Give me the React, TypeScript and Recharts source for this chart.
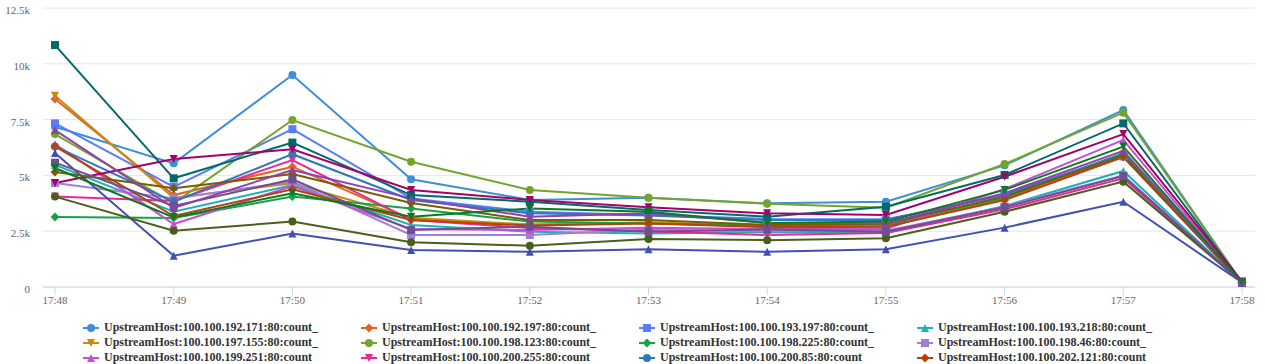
import React from 'react';
import { LineChart, Line, XAxis, YAxis, CartesianGrid, Legend } from 'recharts';

const TIMES = ['17:48', '17:49', '17:50', '17:51', '17:52', '17:53', '17:54', '17:55', '17:56', '17:57', '17:58'];
const Y_TICKS = [0, 2500, 5000, 7500, 10000, 12500];

const SERIES_NAMES = [
  'UpstreamHost:100.100.192.171:80:count_',
  'UpstreamHost:100.100.192.197:80:count_',
  'UpstreamHost:100.100.193.197:80:count_',
  'UpstreamHost:100.100.193.218:80:count_',
  'UpstreamHost:100.100.197.155:80:count_',
  'UpstreamHost:100.100.198.123:80:count_',
  'UpstreamHost:100.100.198.225:80:count_',
  'UpstreamHost:100.100.198.46:80:count_',
  'UpstreamHost:100.100.199.251:80:count',
  'UpstreamHost:100.100.200.255:80:count',
  'UpstreamHost:100.100.200.85:80:count',
  'UpstreamHost:100.100.202.121:80:count',
  'UpstreamHost:100.100.202.57:80:count',
  'UpstreamHost:100.100.203.14:80:count',
  'UpstreamHost:100.100.203.160:80:count',
  'UpstreamHost:100.100.204.22:80:count',
  'UpstreamHost:100.100.204.93:80:count',
  'UpstreamHost:100.100.205.130:80:count',
  'UpstreamHost:100.100.205.41:80:count',
  'UpstreamHost:100.100.206.7:80:count',
];

const SERIES_COLORS = [
  '#3d8fd6', '#e2651f', '#5b7cfa', '#1fb0b5', '#c98b0c',
  '#74a52b', '#15a34a', '#a07fd8', '#c64fd4', '#ea2a94',
  '#2e7ab8', '#b5420c', '#03696b', '#4050b5', '#a6006a',
  '#4a5f1c', '#7a5c04', '#6e4f8f', '#8f3fae', '#0c7a22',
];

const SYMBOLS = ['circle', 'diamond', 'square', 'triangle', 'triangle-down'];

const S01 = [7180, 5540, 9500, 4830, 3900, 4000, 3750, 3820, 5450, 7930, 200];
const S02 = [8420, 4120, 5390, 3050, 2780, 2880, 2700, 2720, 3950, 5900, 200];
const S03 = [7330, 4490, 7070, 3970, 3370, 3230, 3050, 3040, 4100, 5850, 200];
const S04 = [5470, 3370, 4570, 2780, 2480, 2400, 2450, 2420, 3630, 5200, 200];
const S05 = [8570, 3990, 4650, 3100, 2800, 2900, 2750, 2780, 3980, 5950, 200];
const S06 = [6850, 3750, 7480, 5610, 4350, 4000, 3730, 3550, 5510, 7810, 200];
const S07 = [3140, 3090, 4050, 3520, 2930, 2850, 2750, 2800, 4000, 6000, 200];
const S08 = [4660, 3970, 4720, 2330, 2330, 2580, 2500, 2520, 3600, 5000, 200];
const S09 = [6400, 2820, 4520, 2600, 2550, 2650, 2600, 2600, 4390, 6590, 200];
const S10 = [4050, 3850, 5690, 3000, 2640, 2500, 2330, 2420, 3480, 4870, 200];
const S11 = [6300, 3820, 5950, 3900, 3300, 3200, 3000, 3000, 4150, 5950, 200];
const S12 = [6300, 3180, 4380, 3000, 2750, 2850, 2680, 2700, 3900, 5820, 200];
const S13 = [10840, 4870, 6470, 4120, 3820, 3450, 3150, 3600, 5020, 7330, 200];
const S14 = [6000, 1400, 2400, 1660, 1580, 1690, 1580, 1690, 2660, 3820, 200];
const S15 = [4660, 5730, 6170, 4350, 3900, 3570, 3300, 3230, 4940, 6850, 250];
const S16 = [4050, 2520, 2930, 2000, 1850, 2150, 2100, 2180, 3370, 4720, 200];
const S17 = [5150, 4420, 5060, 3760, 3000, 3000, 2780, 2850, 4050, 5900, 200];
const S18 = [5570, 3630, 4820, 2550, 2700, 2480, 2580, 2480, 3570, 4970, 200];
const S19 = [7030, 3540, 5240, 3970, 3150, 3300, 2880, 2860, 4200, 6100, 200];
const S20 = [5330, 3120, 4200, 3150, 3520, 3370, 2870, 2930, 4350, 6290, 200];

const SERIES_VALUES = [S01, S02, S03, S04, S05, S06, S07, S08, S09, S10, S11, S12, S13, S14, S15, S16, S17, S18, S19, S20];

const data = TIMES.map((t, i) => {
  const row: Record<string, string | number> = { time: t };
  SERIES_VALUES.forEach((vals, s) => {
    row['s' + s] = vals[i];
  });
  return row;
});

const FONT = '"Liberation Serif", "Times New Roman", serif';

function markerShape(symbol: string, cx: number, cy: number, r: number, color: string, key?: string) {
  switch (symbol) {
    case 'circle':
      return <circle key={key} cx={cx} cy={cy} r={r} fill={color} />;
    case 'square':
      return <rect key={key} x={cx - r} y={cy - r} width={2 * r} height={2 * r} fill={color} />;
    case 'diamond':
      return <path key={key} d={`M${cx},${cy - r - 0.5}L${cx + r + 0.5},${cy}L${cx},${cy + r + 0.5}L${cx - r - 0.5},${cy}Z`} fill={color} />;
    case 'triangle':
      return <path key={key} d={`M${cx},${cy - r}L${cx + r},${cy + r}L${cx - r},${cy + r}Z`} fill={color} />;
    default:
      return <path key={key} d={`M${cx - r},${cy - r}L${cx + r},${cy - r}L${cx},${cy + r}Z`} fill={color} />;
  }
}

function renderLegend(props: any) {
  const payload = props.payload || [];
  return (
    <div
      style={{
        display: 'grid',
        gridTemplateColumns: 'repeat(4, 278px)',
        paddingLeft: 83,
        paddingTop: 2,
        fontFamily: FONT,
        fontWeight: 'bold',
        fontSize: 12,
        color: '#333333',
      }}
    >
      {payload.map((p: any, i: number) => {
        const idx = SERIES_NAMES.indexOf(p.value);
        const sym = SYMBOLS[(idx >= 0 ? idx : i) % SYMBOLS.length];
        return (
          <div key={p.value} style={{ height: 15, lineHeight: '15px', whiteSpace: 'nowrap', display: 'flex', alignItems: 'center' }}>
            <svg width={16} height={12} style={{ marginRight: 5, flex: 'none' }}>
              <line x1={0} y1={6} x2={16} y2={6} stroke={p.color} strokeWidth={2} />
              {markerShape(sym, 8, 6, 4, p.color)}
            </svg>
            <span>{p.value}</span>
          </div>
        );
      })}
    </div>
  );
}

const fmtY = (v: number) => (v === 0 ? '0' : `${v / 1000}k`);

export default function App() {
  return (
    <div style={{ position: 'absolute', left: 0, top: 0, width: 1265, height: 364, overflow: 'hidden', background: '#ffffff' }}>
      <LineChart width={1265} height={364} data={data} margin={{ top: 8, right: 10, bottom: 0, left: 0 }}>
        <CartesianGrid vertical={false} stroke="#e6e6e6" />
        <XAxis
          dataKey="time"
          interval={0}
          height={31}
          padding={{ left: 12, right: 13 }}
          tickSize={8}
          tickMargin={1}
          axisLine={{ stroke: '#ccd6eb' }}
          tickLine={{ stroke: '#ccd6eb' }}
          tick={{ fill: '#666666', fontSize: 11, fontFamily: FONT }}
        />
        <YAxis
          width={43}
          domain={[0, 12500]}
          ticks={Y_TICKS}
          tickFormatter={fmtY}
          axisLine={false}
          tickLine={false}
          tickSize={0}
          tickMargin={13}
          tick={{ fill: '#666666', fontSize: 11, fontFamily: FONT, dy: 2 }}
        />
        <Legend
          verticalAlign="bottom"
          align="left"
          wrapperStyle={{ left: 0, width: 1265, height: 46, overflow: 'hidden' }}
          content={renderLegend}
        />
        {SERIES_NAMES.map((name, s) => {
          const color = SERIES_COLORS[s];
          const sym = SYMBOLS[s % SYMBOLS.length];
          return (
            <Line
              key={name}
              name={name}
              dataKey={'s' + s}
              type="linear"
              stroke={color}
              strokeWidth={2}
              isAnimationActive={false}
              dot={(p: any) => markerShape(sym, p.cx, p.cy, 4, color, `${name}-${p.index}`)}
              activeDot={false}
            />
          );
        })}
      </LineChart>
    </div>
  );
}
